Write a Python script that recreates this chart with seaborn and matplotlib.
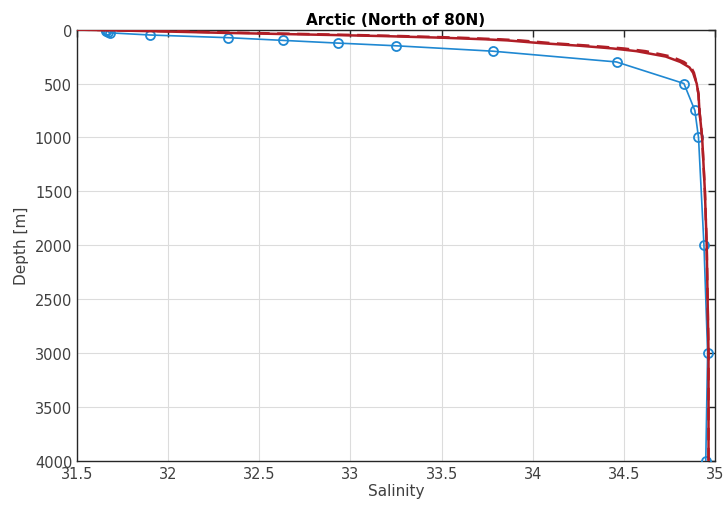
import numpy as np
import pandas as pd
import matplotlib
matplotlib.use("Agg")
import matplotlib.pyplot as plt
import seaborn as sns

# --------------------------------------------------
# Arctic (North of 80N) salinity profiles
# --------------------------------------------------

# observed profile (blue, circles)
obs_depth = [0, 10, 20, 30, 50, 75, 100, 125, 150, 200, 300, 500, 750, 1000, 2000, 3000, 4000]
obs_sal = [31.66, 31.66, 31.67, 31.68, 31.90, 32.33, 32.63, 32.93, 33.25, 33.78, 34.46,
           34.83, 34.89, 34.91, 34.94, 34.96, 34.95]

# model profiles (red solid / red dashed)
mod_depth = [0, 10, 20, 30, 40, 50, 60, 75, 90, 100, 125, 150, 175, 200, 250, 300,
             350, 400, 500, 600, 750, 1000, 1500, 2000, 2500, 3000, 3500, 4000]
mod_sal = [31.50, 31.78, 32.05, 32.30, 32.60, 32.90, 33.18, 33.50, 33.74, 33.86, 34.04,
           34.26, 34.44, 34.57, 34.73, 34.81, 34.86, 34.88, 34.90, 34.91, 34.915, 34.93,
           34.945, 34.955, 34.96, 34.965, 34.965, 34.965]
mod2_sal = [31.50, 31.85, 32.15, 32.42, 32.72, 33.02, 33.28, 33.60, 33.82, 33.93, 34.10,
            34.32, 34.50, 34.62, 34.76, 34.83, 34.87, 34.885, 34.90, 34.91, 34.915, 34.93,
            34.945, 34.955, 34.96, 34.965, 34.965, 34.965]

xticks = [31.5, 32, 32.5, 33, 33.5, 34, 34.5, 35]
xticklabels = ["31.5", "32", "32.5", "33", "33.5", "34", "34.5", "35"]
yticks = [0, 500, 1000, 1500, 2000, 2500, 3000, 3500, 4000]

obs = pd.DataFrame({"salinity": obs_sal, "depth": obs_depth})
mod = pd.DataFrame({"salinity": mod_sal, "depth": mod_depth})
mod2 = pd.DataFrame({"salinity": mod2_sal, "depth": mod_depth})

sns.set_style("white")
plt.rcParams["font.family"] = ["DejaVu Sans"]

blue = "#1f88d2"
red = "#b01e26"
ink = "#262626"

fig = plt.figure(figsize=(7.28, 5.06), dpi=100)
ax = fig.add_axes([0.106, 0.0875, 0.876, 0.852])

sns.lineplot(data=obs, x="salinity", y="depth", sort=False, estimator=None,
             color=blue, linewidth=1.2, marker="o", markersize=6.5,
             markerfacecolor="none", markeredgecolor=blue, markeredgewidth=1.3,
             ax=ax, zorder=3)
sns.lineplot(data=mod, x="salinity", y="depth", sort=False, estimator=None,
             color=red, linewidth=1.8, ax=ax, zorder=4)
sns.lineplot(data=mod2, x="salinity", y="depth", sort=False, estimator=None,
             color=red, linewidth=1.8, linestyle=(0, (5, 3)), ax=ax, zorder=4)

ax.set_xlim(31.5, 35)
ax.set_ylim(4000, 0)
ax.set_xticks(xticks)
ax.set_xticklabels(xticklabels)
ax.set_yticks(yticks)

ax.grid(True, color="#dcdcdc", linewidth=0.8)
ax.set_axisbelow(True)
for s in ax.spines.values():
    s.set_visible(True)
    s.set_color(ink)
    s.set_linewidth(1.0)
ax.tick_params(direction="in", length=5, width=1.0, colors=ink, labelsize=10.5,
               top=True, right=True, labelcolor="#404040")

ax.set_xlabel("Salinity", fontsize=11, color="#404040", labelpad=2)
ax.set_ylabel("Depth [m]", fontsize=11, color="#404040", labelpad=4)
ax.set_title("Arctic (North of 80N)", fontsize=11, fontweight="bold", color="black", pad=4)

plt.savefig("out.png", dpi=100)
